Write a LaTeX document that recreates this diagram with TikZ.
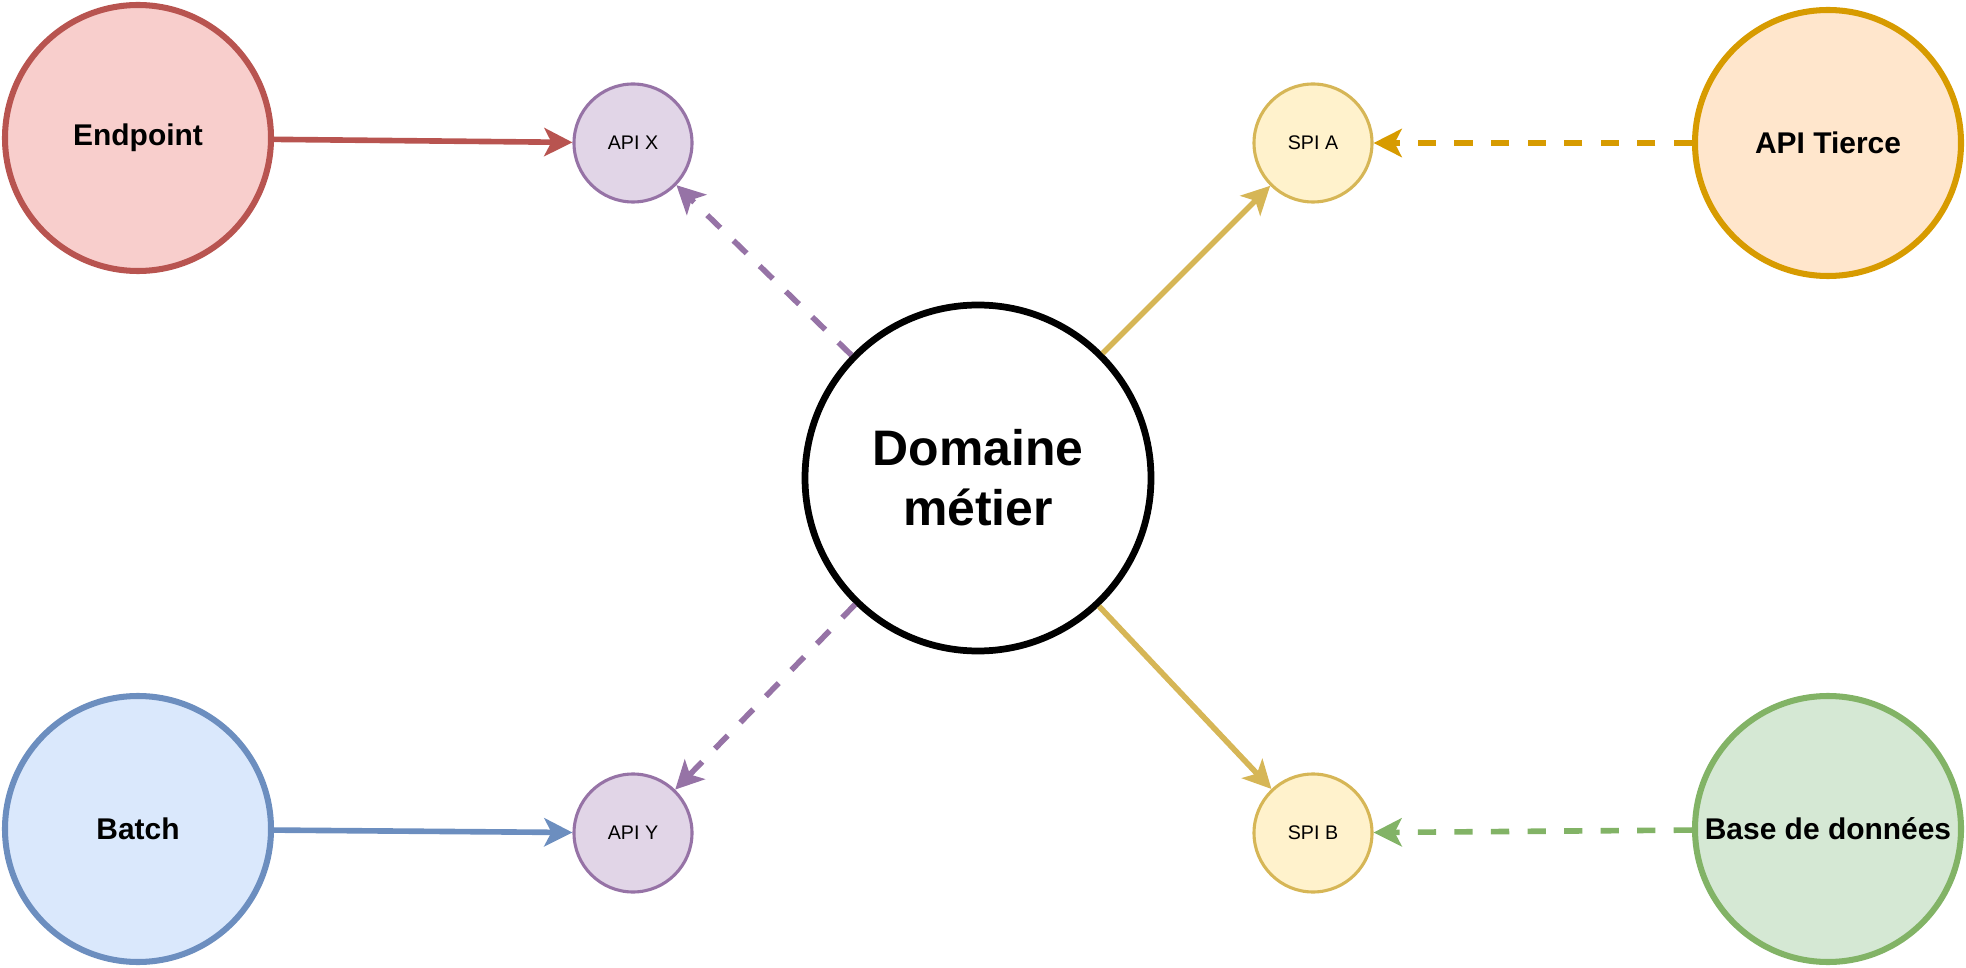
\documentclass[tikz,border=0pt]{standalone}
\usepackage{fontspec}
\setmainfont{Liberation Sans}
\usetikzlibrary{arrows.meta}

\definecolor{redD}{HTML}{B85450}\definecolor{redF}{HTML}{F8CECC}
\definecolor{purD}{HTML}{9673A6}\definecolor{purF}{HTML}{E1D5E7}
\definecolor{yelD}{HTML}{D6B656}\definecolor{yelF}{HTML}{FFF2CC}
\definecolor{oraD}{HTML}{D79B00}\definecolor{oraF}{HTML}{FFE6CC}
\definecolor{bluD}{HTML}{6C8EBF}\definecolor{bluF}{HTML}{DAE8FC}
\definecolor{greD}{HTML}{82B366}\definecolor{greF}{HTML}{D5E8D4}

\begin{document}
\begin{tikzpicture}[
  big/.style={circle, line width=4.3pt, minimum size=6.65cm, inner sep=0pt,
    font=\fontsize{21.3}{25}\selectfont\bfseries},
  port/.style={circle, line width=2.2pt, minimum size=2.95cm, inner sep=0pt,
    font=\fontsize{14}{17}\selectfont},
  ar/.style={-{Stealth[length=20pt, width=20pt, inset=5pt]}, line width=4pt},
  dsh/.style={ar, dash pattern=on 13pt off 13pt},
]
\useasboundingbox (0,0) rectangle (49.15,24.175);

\node[circle, draw=black, fill=white, line width=4.8pt, minimum size=8.65cm,
  align=center, font=\fontsize{35.5}{42.7}\selectfont\bfseries] (dom) at (24.45,12.225) {Domaine\\métier};

\node[big, draw=redD, fill=redF] (endp) at (3.45,20.725) {Endpoint};
\node[big, draw=bluD, fill=bluF] (batch) at (3.45,3.45) {Batch};
\node[big, draw=oraD, fill=oraF] (tierce) at (45.7,20.6) {API Tierce};
\node[big, draw=greD, fill=greF] (bdd) at (45.7,3.45) {Base de données};

\node[port, draw=purD, fill=purF] (apix) at (15.825,20.6) {API X};
\node[port, draw=purD, fill=purF] (apiy) at (15.825,3.35) {API Y};
\node[port, draw=yelD, fill=yelF] (spia) at (32.825,20.6) {SPI A};
\node[port, draw=yelD, fill=yelF] (spib) at (32.825,3.35) {SPI B};

\draw[ar, redD] (endp) -- (apix);
\draw[ar, bluD] (batch) -- (apiy);
\draw[dsh, purD] (dom) -- (apix);
\draw[dsh, purD] (dom) -- (apiy);
\draw[ar, yelD] (dom) -- (spia);
\draw[ar, yelD] (dom) -- (spib);
\draw[dsh, oraD] (tierce) -- (spia);
\draw[dsh, greD] (bdd) -- (spib);
\end{tikzpicture}
\end{document}
